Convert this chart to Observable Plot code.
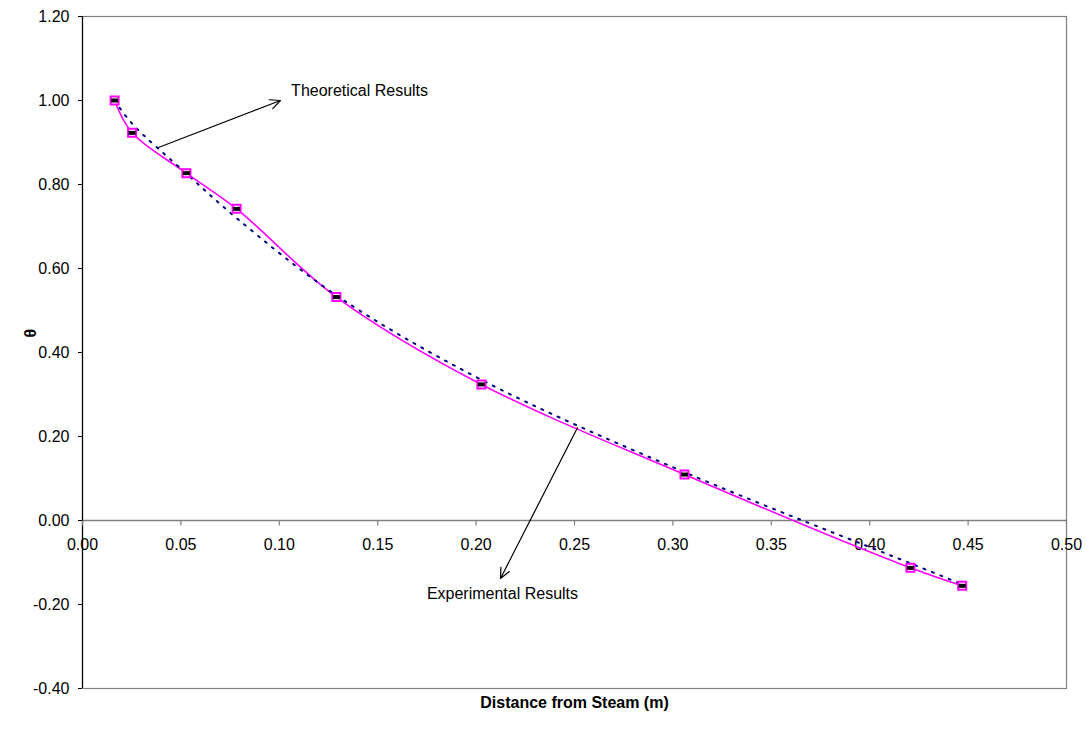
<!DOCTYPE html>
<html>
<head>
<meta charset="utf-8">
<script src="https://cdn.jsdelivr.net/npm/d3@7"></script>
<script src="https://cdn.jsdelivr.net/npm/@observablehq/plot@0.6"></script>
<style>
  html, body { margin: 0; padding: 0; background: #fff; }
  #chart svg { display: block; }
</style>
</head>
<body>
<div id="chart"></div>
<script>
// Experimental measurements
const distance = [0.0163, 0.0252, 0.0528, 0.0783, 0.129, 0.2027, 0.3059, 0.4207, 0.447];
const experimental = [1.00, 0.923, 0.827, 0.742, 0.532, 0.324, 0.1095, -0.1127, -0.1555];
// Theoretical prediction at the same positions
const theoretical = [1.00, 0.945, 0.826, 0.72, 0.536, 0.335, 0.115, -0.102, -0.152];

// Axis ticks
const xTicks = [0.00, 0.05, 0.10, 0.15, 0.20, 0.25, 0.30, 0.35, 0.40, 0.45, 0.50];
const yTicks = [-0.40, -0.20, 0.00, 0.20, 0.40, 0.60, 0.80, 1.00, 1.20];

// Annotations (label, text anchor point, arrow from -> to)
const annotLabels = ["Theoretical Results", "Experimental Results"];
const annotTextX = [0.106, 0.2134];
const annotTextY = [1.024, -0.174];
const annotAnchor = ["start", "middle"];
const arrowX1 = [0.0386, 0.2515];
const arrowY1 = [0.888, 0.221];
const arrowX2 = [0.1006, 0.2124];
const arrowY2 = [1.000, -0.138];

const expData = distance.map((x, i) => ({x, y: experimental[i]}));
const theoData = distance.map((x, i) => ({x, y: theoretical[i]}));
const annots = annotLabels.map((t, i) => ({
  t, x: annotTextX[i], y: annotTextY[i], anchor: annotAnchor[i],
  x1: arrowX1[i], y1: arrowY1[i], x2: arrowX2[i], y2: arrowY2[i]
}));

const fmt = d => d.toFixed(2);

const squareSym = { draw(ctx) { ctx.rect(-4, -4, 8, 8); } };
const barSym = { draw(ctx) { ctx.rect(-3.5, -2, 7, 4); } };
const tickDownSym = { draw(ctx) { ctx.moveTo(0, 0); ctx.lineTo(0, 5); } };

const font = "'Liberation Sans', Arial, Helvetica, sans-serif";

const chart = Plot.plot({
  width: 1086,
  height: 730,
  marginTop: 16,
  marginRight: 20,
  marginBottom: 42,
  marginLeft: 82,
  style: { fontFamily: font, fontSize: "16px", background: "#fff", color: "#000" },
  x: { domain: [0, 0.5], axis: null },
  y: { domain: [-0.4, 1.2], axis: null },
  marks: [
    Plot.frame({ stroke: "#808080", strokeWidth: 1.2 }),
    Plot.ruleY([0], { stroke: "#808080", strokeWidth: 1.5 }),
    Plot.ruleX([0], { stroke: "#000", strokeWidth: 1.2 }),
    Plot.axisY(yTicks, {
      tickFormat: fmt, tickSize: 4, tickPadding: 9, fontSize: 16,
      stroke: "#000", fill: "#000"
    }),
    // x ticks drawn along the y = 0 line
    Plot.dot(xTicks, { x: d => d, y: 0, symbol: tickDownSym, stroke: "#808080", strokeWidth: 1.2, r: 1 }),
    Plot.text(xTicks, { x: d => d, y: 0, text: fmt, dy: 24, fontSize: 16, fill: "#000" }),
    // series
    Plot.line(expData, { x: "x", y: "y", curve: "catmull-rom", stroke: "#FF00FF", strokeWidth: 1.6 }),
    Plot.line(theoData, { x: "x", y: "y", curve: "catmull-rom", stroke: "#000080", strokeWidth: 2, strokeDasharray: "2,7" }),
    Plot.dot(expData, { x: "x", y: "y", symbol: squareSym, stroke: "#FF00FF", strokeWidth: 2, fill: "#fff", r: 1 }),
    Plot.dot(expData, { x: "x", y: "y", symbol: barSym, fill: "#000", r: 1 }),
    // annotations
    Plot.arrow(annots, { x1: "x1", y1: "y1", x2: "x2", y2: "y2", stroke: "#000", strokeWidth: 1.2, headLength: 14, headAngle: 50 }),
    Plot.text(annots.filter(d => d.anchor === "start"), { x: "x", y: "y", text: "t", textAnchor: "start", fontSize: 16, fill: "#000" }),
    Plot.text(annots.filter(d => d.anchor === "middle"), { x: "x", y: "y", text: "t", textAnchor: "middle", fontSize: 16, fill: "#000" }),
    // axis titles
    Plot.text(["θ"], { frameAnchor: "left", dx: -52, dy: -15, rotate: -90, fontSize: 16, fontWeight: "bold", fill: "#000" }),
    Plot.text(["Distance from Steam (m)"], { frameAnchor: "bottom", dy: 19, fontSize: 16, fontWeight: "bold", fill: "#000" })
  ]
});

document.getElementById("chart").appendChild(chart);
</script>
</body>
</html>
